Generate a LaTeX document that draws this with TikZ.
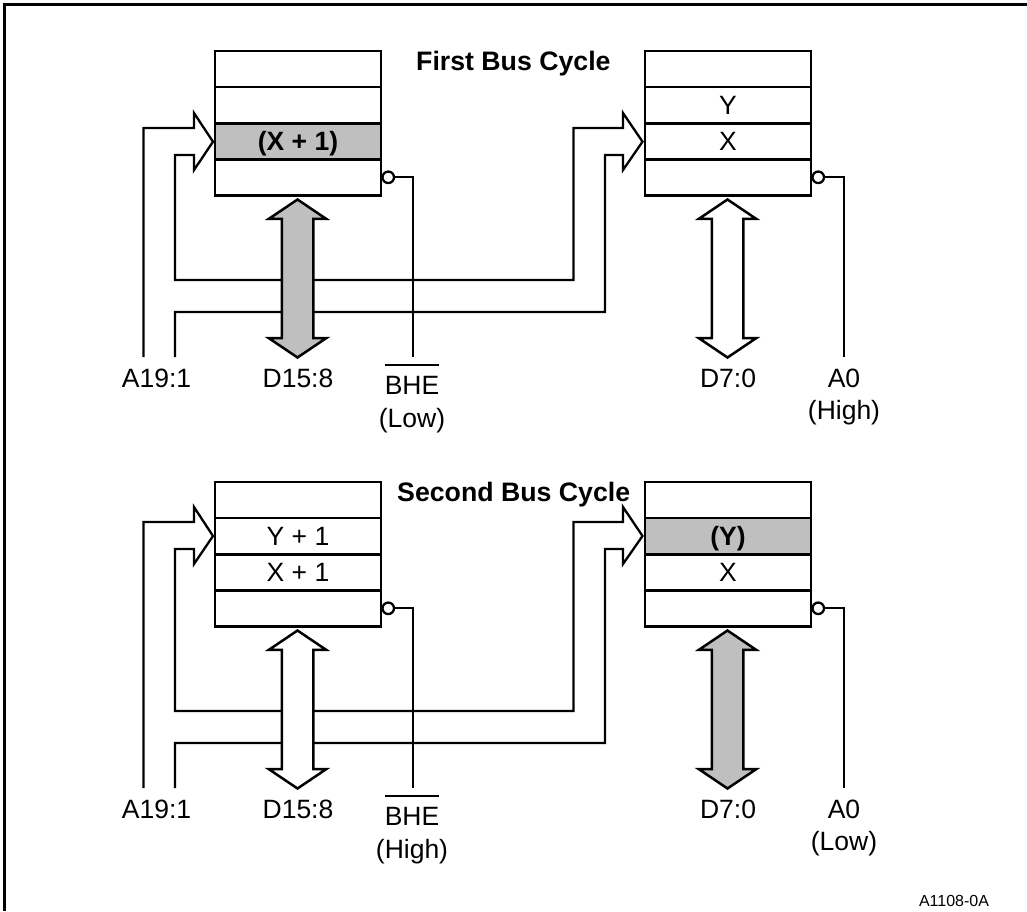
\documentclass[tikz,border=0pt]{standalone}
\usepackage{fontspec}
\setmainfont{Liberation Sans}
\usetikzlibrary{positioning,shapes.arrows}
\definecolor{cellgray}{HTML}{BFBFBF}
\newcommand{\barlabel}[1]{\vbox{\hrule height 2.5pt\kern 9.5pt\hbox{#1}}}

\begin{document}
\begin{tikzpicture}[
    x=1pt, y=-1pt,
    cell/.style={draw, line width=2.7pt, fill=white, minimum width=166pt, minimum height=36.1pt, inner sep=0pt, outer sep=0pt, text height=18pt, text depth=0pt, font=\fontsize{26.5}{30}\selectfont},
    active/.style={fill=cellgray, font=\fontsize{26.5}{30}\selectfont\bfseries},
    databus/.style={draw, line width=2.5pt, fill=white, shape=double arrow, shape border rotate=90, minimum height=158pt, double arrow head extend=13pt, double arrow head indent=0pt, double arrow tip angle=112, inner sep=14.5pt, outer sep=0pt},
    bubble/.style={draw, circle, line width=2.3pt, fill=white, minimum size=11.5pt, inner sep=0pt, outer sep=0pt},
    addrline/.style={line width=2.3pt},
    ctrlline/.style={line width=2.2pt},
    lbl/.style={anchor=base, inner sep=0pt, font=\fontsize{26.5}{30}\selectfont},
    heading/.style={anchor=base west, inner sep=0pt, font=\fontsize{26.7}{30}\selectfont\bfseries}
  ]
    \useasboundingbox (0,0) rectangle (1027,911);
    \draw[line width=3pt] (4.5,911) -- (4.5,4.5) -- (1027,4.5);

    % first bus cycle
    \node[heading] (first) at (416,70) {First Bus Cycle};

    \coordinate (addra) at (143.5,357);
    \coordinate (addrb) at (175,357);
    \draw[addrline] (addra) -- (143.5,128) -- (194,128) -- (194,113) -- (213,141.7) -- (194,170) -- (194,155) -- (175,155)
      -- (175,280) -- (573.5,280) -- (573.5,128) -- (623,128) -- (623,113) -- (642.5,141.7) -- (623,170) -- (623,155) -- (605,155)
      -- (605,312) -- (175,312) -- (addrb);

    \node[cell] (hia) at (298,69) {};
    \node[cell, below=0pt of hia] (hib) {};
    \node[cell, active, below=0pt of hib] (hic) {(X + 1)};
    \node[cell, below=0pt of hic] (hid) {};

    \node[cell] (loa) at (728,69) {};
    \node[cell, below=0pt of loa] (lob) {Y};
    \node[cell, below=0pt of lob] (loc) {X};
    \node[cell, below=0pt of loc] (lod) {};

    \node[databus, fill=cellgray] (hidata) at (297.5,278.5) {};
    \node[databus] (lodata) at (727.5,278.5) {};

    \node[bubble, right=1.5pt of hid] (hibub) {};
    \node[bubble, right=1.5pt of lod] (lobub) {};
    \coordinate (bhe) at (413,357);
    \coordinate (azero) at (844,357);
    \draw[ctrlline] (hibub) -| (bhe);
    \draw[ctrlline] (lobub) -| (azero);

    \node[lbl] (addrlbl) at (156.5,387) {A19:1};
    \node[lbl] (hilbl) at (298,387) {D15:8};
    \node[lbl] (bhelbl) at (412,394) {\barlabel{BHE}};
    \node[lbl] (bhelvl) at (412,427) {(Low)};
    \node[lbl] (lolbl) at (728,387) {D7:0};
    \node[lbl] (azlbl) at (844,387) {A0};
    \node[lbl] (azlvl) at (844,419.5) {(High)};

    % second bus cycle
    \node[heading] (second) at (397,501) {Second Bus Cycle};

    \coordinate (saddra) at (143.5,788);
    \coordinate (saddrb) at (175,788);
    \draw[addrline] (saddra) -- (143.5,522) -- (194,522) -- (194,507) -- (213,536) -- (194,564) -- (194,549) -- (175,549)
      -- (175,711) -- (573.5,711) -- (573.5,522) -- (623,522) -- (623,507) -- (642.5,536) -- (623,564) -- (623,549) -- (605,549)
      -- (605,743) -- (175,743) -- (saddrb);

    \node[cell] (shia) at (298,500) {};
    \node[cell, below=0pt of shia] (shib) {Y + 1};
    \node[cell, below=0pt of shib] (shic) {X + 1};
    \node[cell, below=0pt of shic] (shid) {};

    \node[cell] (sloa) at (728,500) {};
    \node[cell, active, below=0pt of sloa] (slob) {(Y)};
    \node[cell, below=0pt of slob] (sloc) {X};
    \node[cell, below=0pt of sloc] (slod) {};

    \node[databus] (shidata) at (297.5,709.5) {};
    \node[databus, fill=cellgray] (slodata) at (727.5,709.5) {};

    \node[bubble, right=1.5pt of shid] (shibub) {};
    \node[bubble, right=1.5pt of slod] (slobub) {};
    \coordinate (sbhe) at (413,788);
    \coordinate (sazero) at (844,788);
    \draw[ctrlline] (shibub) -| (sbhe);
    \draw[ctrlline] (slobub) -| (sazero);

    \node[lbl] (saddrlbl) at (156.5,818) {A19:1};
    \node[lbl] (shilbl) at (298,818) {D15:8};
    \node[lbl] (sbhelbl) at (412,825) {\barlabel{BHE}};
    \node[lbl] (sbhelvl) at (412,858) {(High)};
    \node[lbl] (slolbl) at (728,818) {D7:0};
    \node[lbl] (sazlbl) at (844,818) {A0};
    \node[lbl] (sazlvl) at (844,850.5) {(Low)};

    \node[lbl, font=\fontsize{16}{20}\selectfont] (figid) at (954,906) {A1108-0A};
  \end{tikzpicture}
\end{document}
